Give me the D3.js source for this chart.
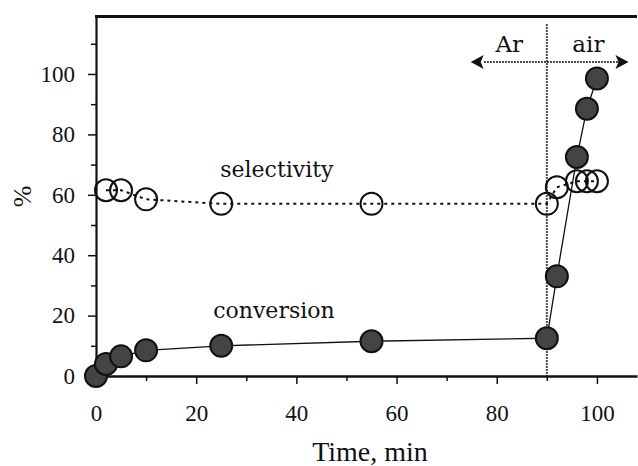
<!DOCTYPE html>
<html>
<head>
<meta charset="utf-8">
<script src="https://cdn.jsdelivr.net/npm/d3@7"></script>
<style>
  body { margin: 0; background: #fff; }
  svg { display: block; }
</style>
</head>
<body>
<div id="chart"></div>
<script>
// Data
var timeConv   = [0, 2, 5, 10, 25, 55, 90, 92, 96, 98, 100];
var conversion = [0, 4, 6.5, 8.5, 10, 11.5, 12.5, 33, 72.5, 88.5, 98.5];
var timeSel     = [2, 5, 10, 25, 55, 90, 92, 96, 98, 100];
var selectivity = [61.5, 61.5, 58.5, 57, 57, 57, 62.5, 64.5, 64.5, 64.5];
var xMajor = [0, 20, 40, 60, 80, 100];
var xMinor = [10, 30, 50, 70, 90];
var yMajor = [0, 20, 40, 60, 80, 100];
var yMinor = [10, 30, 50, 70, 90, 110];
var switchTime = 90;

var w = 638, h = 466;
var serif = "Liberation Serif";
var wide = "DejaVu Serif";

var x = d3.scaleLinear().domain([0, 108]).range([96, 637]);
var y = d3.scaleLinear().domain([0, 119]).range([376, 16.6]);

var svg = d3.select("#chart").append("svg")
  .attr("width", w)
  .attr("height", h);

// axes
function styleAxis(g) {
  g.attr("font-family", null).attr("font-size", null);
  g.select(".domain").attr("stroke", "#111");
  g.selectAll(".tick line").attr("stroke", "#111").attr("stroke-width", 1.5);
  g.selectAll("text")
    .style("font-family", serif)
    .style("font-size", "23px")
    .attr("fill", "#111");
}

svg.append("g")
  .attr("transform", "translate(0," + y(0) + ")")
  .call(d3.axisBottom(x).tickValues(xMinor).tickSize(5).tickSizeOuter(0).tickFormat(""))
  .call(styleAxis)
  .select(".domain").remove();

svg.append("g")
  .attr("transform", "translate(" + x(0) + ",0)")
  .call(d3.axisLeft(y).tickValues(yMinor).tickSize(5).tickSizeOuter(0).tickFormat(""))
  .call(styleAxis)
  .select(".domain").remove();

var xAxis = svg.append("g")
  .attr("transform", "translate(0," + y(0) + ")")
  .call(d3.axisBottom(x).tickValues(xMajor).tickSize(8).tickSizeOuter(0).tickPadding(21))
  .call(styleAxis);
xAxis.select(".domain").attr("stroke-width", 2.5);

var yAxis = svg.append("g")
  .attr("transform", "translate(" + x(0) + ",0)")
  .call(d3.axisLeft(y).tickValues(yMajor).tickSize(8).tickSizeOuter(0).tickPadding(13))
  .call(styleAxis);
yAxis.select(".domain").attr("stroke-width", 2.2);

// top frame line
svg.append("line")
  .attr("x1", x(0) - 1).attr("x2", x(108))
  .attr("y1", y(119)).attr("y2", y(119))
  .attr("stroke", "#111")
  .attr("stroke-width", 3);

svg.append("text")
  .attr("x", x(54.7)).attr("y", 461)
  .attr("text-anchor", "middle")
  .style("font-family", serif).style("font-size", "28px").attr("fill", "#111")
  .text("Time, min");

svg.append("text")
  .attr("transform", "translate(31," + y(59.5) + ") rotate(-90)")
  .attr("text-anchor", "middle")
  .style("font-family", serif).style("font-size", "26px").attr("fill", "#111")
  .text("%");

// Ar / air divider
svg.append("line")
  .attr("x1", x(switchTime)).attr("x2", x(switchTime))
  .attr("y1", y(116.5)).attr("y2", y(0))
  .attr("stroke", "#111").attr("stroke-width", 2)
  .attr("stroke-dasharray", "1.5,1.5");

var arrowY = y(104);
svg.append("line")
  .attr("x1", x(77.5)).attr("x2", x(106))
  .attr("y1", arrowY).attr("y2", arrowY)
  .attr("stroke", "#111").attr("stroke-width", 2)
  .attr("stroke-dasharray", "1.5,1.5");

svg.append("path")
  .attr("d", "M" + x(74.8) + "," + arrowY + "l13,-7l-3,7l3,7z")
  .attr("fill", "#111");
svg.append("path")
  .attr("d", "M" + x(106.3) + "," + arrowY + "l-13,-7l3,7l-3,7z")
  .attr("fill", "#111");

svg.append("text")
  .attr("x", x(82.5)).attr("y", y(107.3))
  .attr("text-anchor", "middle")
  .style("font-family", wide).style("font-size", "23px").attr("fill", "#111")
  .text("Ar");
svg.append("text")
  .attr("x", x(98.3)).attr("y", y(107.3))
  .attr("text-anchor", "middle")
  .style("font-family", wide).style("font-size", "23px").attr("fill", "#111")
  .text("air");

// series
var selData = timeSel.map(function(t, i) { return [t, selectivity[i]]; });
var convData = timeConv.map(function(t, i) { return [t, conversion[i]]; });

var line = d3.line()
  .x(function(d) { return x(d[0]); })
  .y(function(d) { return y(d[1]); });

svg.append("path")
  .datum(selData)
  .attr("d", line)
  .attr("fill", "none")
  .attr("stroke", "#111")
  .attr("stroke-width", 2)
  .attr("stroke-dasharray", "3,4");

svg.append("path")
  .datum(convData)
  .attr("d", line)
  .attr("fill", "none")
  .attr("stroke", "#111")
  .attr("stroke-width", 1.3);

svg.selectAll(".sel")
  .data(selData)
  .enter()
  .append("circle")
  .attr("class", "sel")
  .attr("cx", function(d) { return x(d[0]); })
  .attr("cy", function(d) { return y(d[1]); })
  .attr("r", 11)
  .attr("fill", "none")
  .attr("stroke", "#111")
  .attr("stroke-width", 2);

svg.selectAll(".conv")
  .data(convData)
  .enter()
  .append("circle")
  .attr("class", "conv")
  .attr("cx", function(d) { return x(d[0]); })
  .attr("cy", function(d) { return y(d[1]); })
  .attr("r", 11)
  .attr("fill", "#444")
  .attr("stroke", "#111")
  .attr("stroke-width", 2);

// series labels
svg.append("text")
  .attr("x", x(24.8)).attr("y", y(65.9))
  .style("font-family", wide).style("font-size", "22px").attr("fill", "#111")
  .text("selectivity");
svg.append("text")
  .attr("x", x(23.4)).attr("y", y(19.2))
  .style("font-family", wide).style("font-size", "22px").attr("fill", "#111")
  .text("conversion");
</script>
</body>
</html>
